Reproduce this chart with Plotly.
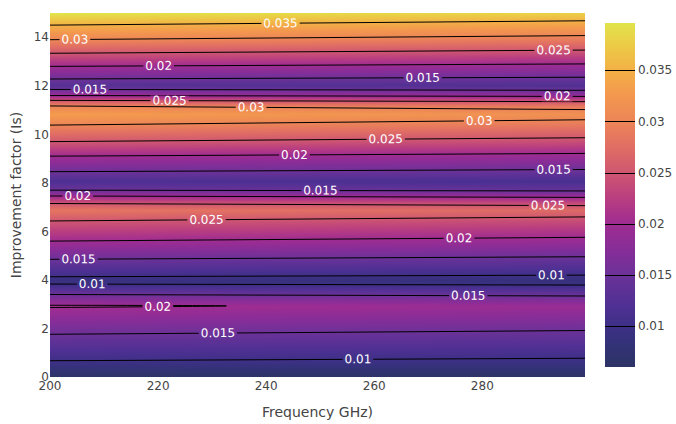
import plotly.graph_objects as go

# Frequency (GHz) columns
freq = [200, 299]

# Improvement factor knots (rows)
improvement = [0.00, 0.67, 1.76, 2.93, 3.40, 3.83, 4.00, 4.13, 4.85, 5.60,
               6.43, 6.90, 7.15, 7.46, 7.70, 8.08, 8.46, 9.10, 9.70, 10.38,
               10.85, 11.17, 11.40, 11.60, 11.85, 12.05, 12.28, 12.80, 13.34,
               13.90, 14.50, 15.00]

# Values at 200 GHz
z_200 = [0.0063, 0.0100, 0.0150, 0.0203, 0.0150, 0.0100, 0.0092, 0.0100,
         0.0150, 0.0200, 0.0250, 0.0283, 0.0250, 0.0200, 0.0150, 0.0118,
         0.0150, 0.0200, 0.0250, 0.0300, 0.0330, 0.0300, 0.0250, 0.0200,
         0.0150, 0.0127, 0.0150, 0.0200, 0.0250, 0.0300, 0.0350, 0.0396]

# Values at 299 GHz
z_299 = [0.00602, 0.00955, 0.01433, 0.01939, 0.01433, 0.00955, 0.00879,
         0.00955, 0.01433, 0.01910, 0.02388, 0.02703, 0.02388, 0.01910,
         0.01433, 0.01127, 0.01433, 0.01910, 0.02388, 0.02865, 0.03152,
         0.02865, 0.02388, 0.01910, 0.01433, 0.01213, 0.01433, 0.01910,
         0.02388, 0.02865, 0.03343, 0.03782]

z = [[a, b] for a, b in zip(z_200, z_299)]

colorscale = [
    [0.00, "rgb(45,52,100)"],
    [0.06, "rgb(50,50,118)"],
    [0.12, "rgb(62,48,135)"],
    [0.18, "rgb(80,48,148)"],
    [0.27, "rgb(108,50,152)"],
    [0.34, "rgb(135,45,152)"],
    [0.42, "rgb(160,45,145)"],
    [0.49, "rgb(185,62,128)"],
    [0.57, "rgb(208,88,112)"],
    [0.64, "rgb(225,110,100)"],
    [0.71, "rgb(236,132,88)"],
    [0.79, "rgb(243,152,78)"],
    [0.86, "rgb(243,175,70)"],
    [0.94, "rgb(235,205,70)"],
    [1.00, "rgb(225,228,75)"],
]

fig = go.Figure(go.Contour(
    x=freq,
    y=improvement,
    z=z,
    zmin=0.00602, zmax=0.0396,
    colorscale=colorscale,
    colorbar=dict(xref="container", x=0.8802, xanchor="left", xpad=10,
                  outlinewidth=0),
    contours=dict(coloring="heatmap", start=0.01, end=0.035, size=0.005,
                  showlabels=True, labelfont=dict(color="white", size=12)),
    line=dict(color="black", width=1),
))

fig.update_layout(
    width=676, height=424,
    font=dict(family="DejaVu Sans", size=12, color="#444"),
    margin=dict(l=50, r=91, t=13, b=47),
    xaxis=dict(title=dict(text="Frequency GHz)"), dtick=20, automargin=False),
    yaxis=dict(title=dict(text="Improvement factor (Is)", standoff=8), dtick=2,
               automargin=False),
    plot_bgcolor="white",
)

fig.write_html("out.html", config={"displayModeBar": False},
               post_script="document.body.style.margin='0';document.body.style.overflow='hidden';")
